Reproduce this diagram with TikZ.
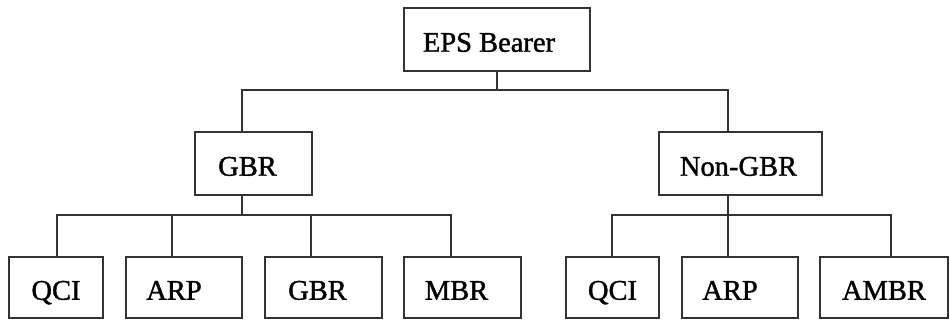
\documentclass[tikz,border=0pt]{standalone}
\usepackage{fontspec}
\setmainfont{Liberation Serif}
\newfontfamily\reffont[FakeBold=1.3]{Liberation Serif}
\newcommand\shtxt[2]{\kern-#1pt#2\kern#1pt}
\begin{document}
\begin{tikzpicture}[x=1pt,y=-1pt,
  box/.style={draw=black!80,line width=1.3pt,rectangle,inner sep=0pt,
    text height=24.5pt,text depth=0pt,font=\reffont\fontsize{28.5}{31}\selectfont},
  conn/.style={draw=black!80,line width=1.3pt}]
\path[use as bounding box] (0,0) rectangle (950,320);
% nodes
\node[box,minimum width=186pt,minimum height=63pt] (eps) at (497,39.5) {\shtxt{8}{EPS Bearer}};
\node[box,minimum width=117pt,minimum height=63pt] (gbr) at (253.5,163.5) {\shtxt{6}{GBR}};
\node[box,minimum width=163pt,minimum height=63pt] (ngbr) at (740.5,163.5) {\shtxt{2}{Non-GBR}};
\node[box,minimum width=94pt,minimum height=61pt] (qci1) at (56,287.5) {QCI};
\node[box,minimum width=116pt,minimum height=61pt] (arp1) at (184,287.5) {\shtxt{10}{ARP}};
\node[box,minimum width=117pt,minimum height=61pt] (gbr2) at (323.5,287.5) {\shtxt{6}{GBR}};
\node[box,minimum width=117pt,minimum height=61pt] (mbr) at (462.5,287.5) {\shtxt{6}{MBR}};
\node[box,minimum width=93pt,minimum height=61pt] (qci2) at (612.5,287.5) {QCI};
\node[box,minimum width=116pt,minimum height=61pt] (arp2) at (740,287.5) {\shtxt{10}{ARP}};
\node[box,minimum width=128pt,minimum height=61pt] (ambr) at (884,287.5) {AMBR};
% junction coordinates
\coordinate (t0) at (497,90);
\coordinate (tL) at (242,90);
\coordinate (tR) at (728,90);
\coordinate (g0) at (242,215);
\coordinate (a1) at (57,215);
\coordinate (a2) at (172,215);
\coordinate (a3) at (311,215);
\coordinate (a4) at (451,215);
\coordinate (b1) at (612,215);
\coordinate (b2) at (728,215);
\coordinate (b3) at (891,215);
% connectors
\draw[conn] (eps.south) -- (t0);
\draw[conn] (gbr.north -| tL) -- (tL) -- (tR) -- (ngbr.north -| tR);
\draw[conn] (gbr.south -| g0) -- (g0);
\draw[conn] (qci1.north -| a1) -- (a1) -- (a4) -- (mbr.north -| a4);
\draw[conn] (arp1.north -| a2) -- (a2);
\draw[conn] (gbr2.north -| a3) -- (a3);
\draw[conn] (ngbr.south -| b2) -- (arp2.north -| b2);
\draw[conn] (qci2.north -| b1) -- (b1) -- (b3) -- (ambr.north -| b3);
\end{tikzpicture}
\end{document}
